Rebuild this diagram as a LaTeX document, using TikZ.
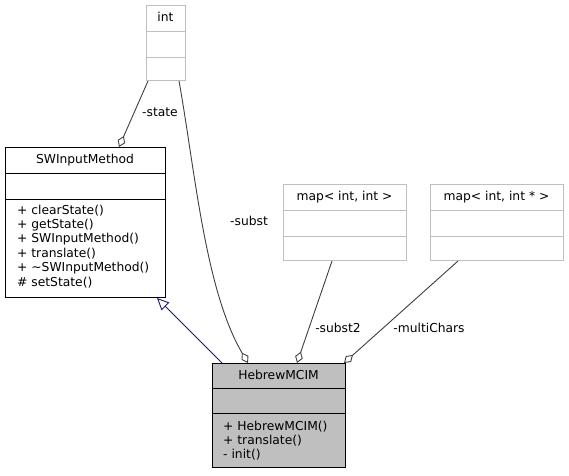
\documentclass[tikz,border=0pt]{standalone}
\usepackage{fontspec}
\setmainfont{DejaVu Sans}
\usetikzlibrary{arrows.meta}
\definecolor{edgegray}{HTML}{404040}
\definecolor{boxgray}{HTML}{BFBFBF}
\definecolor{lightline}{HTML}{BFBFBF}
\definecolor{inhblue}{HTML}{191970}
\begin{document}
\begin{tikzpicture}[x=1pt,y=-1pt,
  font=\fontsize{12.3}{14.6}\selectfont,
  classbox/.style={draw=black, line width=1pt, inner sep=0pt, anchor=north west},
  extbox/.style={draw=lightline, line width=1pt, inner sep=0pt, anchor=north west},
  divider/.style={line width=1pt},
  txt/.style={inner sep=0pt, text height=9.5pt, text depth=2.5pt},
  mtxt/.style={txt, anchor=west},
  agg/.style={draw=edgegray, line width=0.9pt, -{Diamond[open, length=12pt, width=8pt, line width=0.9pt]}},
  inh/.style={draw=inhblue, line width=0.9pt, -{Triangle[open, length=12pt, width=11pt, line width=0.9pt]}},
  lbl/.style={txt, text=black}]
\useasboundingbox (0,0) rectangle (569,475);
\fill[white] (0,0) rectangle (569,475);

% int
\node[extbox, minimum width=39pt, minimum height=75pt] (int) at (146,5) {};
\draw[divider, lightline] ([yshift=-26pt]int.north west) -- ([yshift=-26pt]int.north east);
\draw[divider, lightline] ([yshift=-52pt]int.north west) -- ([yshift=-52pt]int.north east);
\node[txt] (intt) at (165.5,18) {int};

% SWInputMethod
\node[classbox, minimum width=160pt, minimum height=150pt] (sw) at (5,147) {};
\draw[divider] ([yshift=-26pt]sw.north west) -- ([yshift=-26pt]sw.north east);
\draw[divider] ([yshift=-52pt]sw.north west) -- ([yshift=-52pt]sw.north east);
\node[txt] (swt) at (85,160) {SWInputMethod};
\node[mtxt] (sw1) at (17,210.7) {+ clearState()};
\node[mtxt] (sw2) at (17,225) {+ getState()};
\node[mtxt] (sw3) at (17,239.3) {+ SWInputMethod()};
\node[mtxt] (sw4) at (17,253.7) {+ translate()};
\node[mtxt] (sw5) at (17,268) {+ \char"223C SWInputMethod()};
\node[mtxt] (sw6) at (17,282.7) {\# setState()};

% map<int,int>
\node[extbox, minimum width=123pt, minimum height=76pt] (m1) at (283,184) {};
\draw[divider, lightline] ([yshift=-26pt]m1.north west) -- ([yshift=-26pt]m1.north east);
\draw[divider, lightline] ([yshift=-52pt]m1.north west) -- ([yshift=-52pt]m1.north east);
\node[txt] (m1t) at (344.5,197) {map< int, int >};

% map<int,int*>
\node[extbox, minimum width=133pt, minimum height=76pt] (m2) at (430,184) {};
\draw[divider, lightline] ([yshift=-26pt]m2.north west) -- ([yshift=-26pt]m2.north east);
\draw[divider, lightline] ([yshift=-52pt]m2.north west) -- ([yshift=-52pt]m2.north east);
\node[txt] (m2t) at (496.5,197) {map< int, int * >};

% HebrewMCIM
\node[classbox, fill=boxgray, minimum width=133pt, minimum height=104pt] (hm) at (212,363) {};
\draw[divider] ([yshift=-25pt]hm.north west) -- ([yshift=-25pt]hm.north east);
\draw[divider] ([yshift=-50pt]hm.north west) -- ([yshift=-50pt]hm.north east);
\node[txt] (hmt) at (278.5,375.5) {HebrewMCIM};
\node[mtxt] (hm1) at (223,427) {+ HebrewMCIM()};
\node[mtxt] (hm2) at (223,441) {+ translate()};
\node[mtxt] (hm3) at (223,455) {- init()};

% edges
\draw[inh] ([xshift=10pt]hm.north west) -- ([xshift=-9pt]sw.south east);
\draw[agg] ([xshift=2pt]int.south west) -- ([xshift=114pt]sw.north west);
\draw[agg] ([xshift=-7pt]int.south east) .. controls (195,170) and (205,290) .. ([xshift=36pt]hm.north west);
\draw[agg] ([xshift=49pt]m1.south west) -- ([xshift=85pt]hm.north west);
\draw[agg] ([xshift=28pt]m2.south west) -- ([xshift=-2pt]hm.north east);

% labels
\node[lbl] (lstate) at (160,113) {-state};
\node[lbl] (lsubst) at (249,222) {-subst};
\node[lbl] (lsubst2) at (338,329) {-subst2};
\node[lbl] (lmulti) at (429,329) {-multiChars};
\end{tikzpicture}
\end{document}
